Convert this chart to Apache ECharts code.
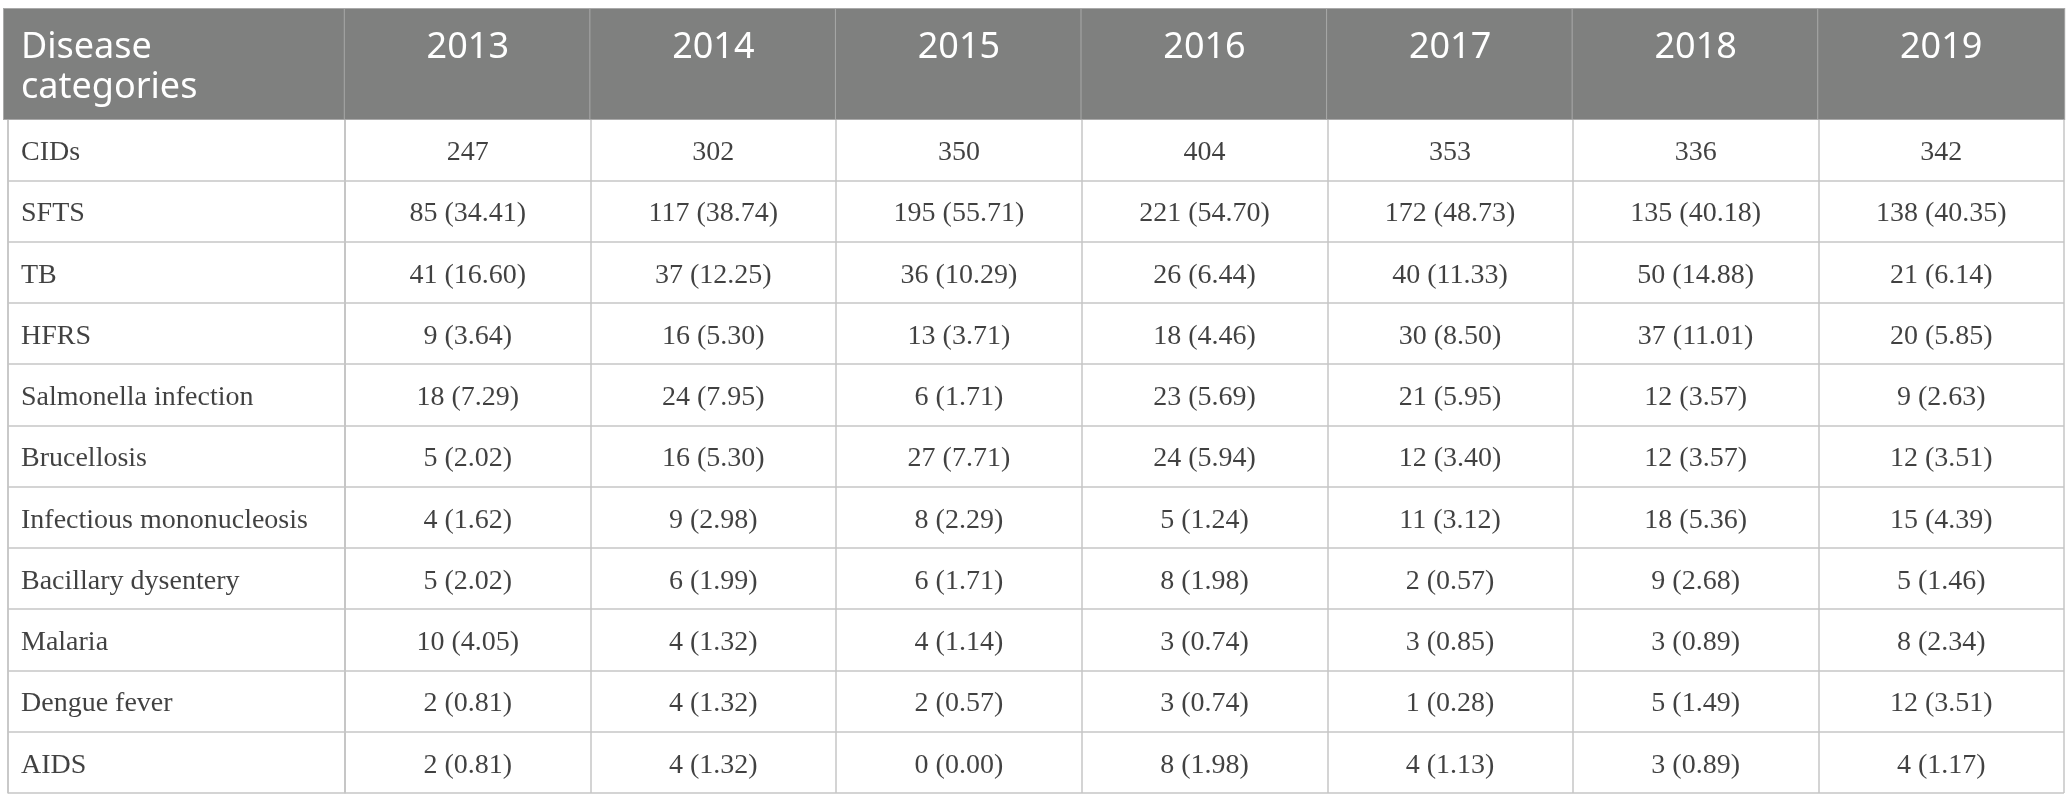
<!DOCTYPE html>
<html>
<head>
    <meta charset="utf-8">
    <script src="https://cdn.jsdelivr.net/npm/echarts@6/dist/echarts.min.js"></script>
    <style>
        body { margin: 0; background: #fff; }
    </style>
</head>
<body>
    <div id="main" style="width: 2068px;height:812px;"></div>
    <script type="text/javascript">
        // table data
        var categories = ['CIDs', 'SFTS', 'TB', 'HFRS', 'Salmonella infection', 'Brucellosis',
            'Infectious mononucleosis', 'Bacillary dysentery', 'Malaria', 'Dengue fever', 'AIDS'];
        var years = ['2013', '2014', '2015', '2016', '2017', '2018', '2019'];

        var cases2013 = [247, 85, 41, 9, 18, 5, 4, 5, 10, 2, 2];
        var cases2014 = [302, 117, 37, 16, 24, 16, 9, 6, 4, 4, 4];
        var cases2015 = [350, 195, 36, 13, 6, 27, 8, 6, 4, 2, 0];
        var cases2016 = [404, 221, 26, 18, 23, 24, 5, 8, 3, 3, 8];
        var cases2017 = [353, 172, 40, 30, 21, 12, 11, 2, 3, 1, 4];
        var cases2018 = [336, 135, 50, 37, 12, 12, 18, 9, 3, 5, 3];
        var cases2019 = [342, 138, 21, 20, 9, 12, 15, 5, 8, 12, 4];

        var pct2013 = [null, 34.41, 16.60, 3.64, 7.29, 2.02, 1.62, 2.02, 4.05, 0.81, 0.81];
        var pct2014 = [null, 38.74, 12.25, 5.30, 7.95, 5.30, 2.98, 1.99, 1.32, 1.32, 1.32];
        var pct2015 = [null, 55.71, 10.29, 3.71, 1.71, 7.71, 2.29, 1.71, 1.14, 0.57, 0.00];
        var pct2016 = [null, 54.70, 6.44, 4.46, 5.69, 5.94, 1.24, 1.98, 0.74, 0.74, 1.98];
        var pct2017 = [null, 48.73, 11.33, 8.50, 5.95, 3.40, 3.12, 0.57, 0.85, 0.28, 1.13];
        var pct2018 = [null, 40.18, 14.88, 11.01, 3.57, 3.57, 5.36, 2.68, 0.89, 1.49, 0.89];
        var pct2019 = [null, 40.35, 6.14, 5.85, 2.63, 3.51, 4.39, 1.46, 2.34, 3.51, 1.17];

        var casesByYear = [cases2013, cases2014, cases2015, cases2016, cases2017, cases2018, cases2019];
        var pctByYear = [pct2013, pct2014, pct2015, pct2016, pct2017, pct2018, pct2019];

        var lineColor = '#c6c6c6';
        var headBg = '#7f807f';
        var textColor = '#111';
        var serif = 'Liberation Serif';
        var sans = 'Noto Sans';
        var firstW = 345;
        var cellW = (2068 - 1 - firstW) / years.length;
        var firstHead = 'Disease categories';

        var cells = [];
        years.forEach(function (y, i) {
            categories.forEach(function (c, j) {
                var p = pctByYear[i][j];
                var txt = p === null ? String(casesByYear[i][j]) : casesByYear[i][j] + ' (' + p.toFixed(2) + ')';
                cells.push([y, c, txt]);
            });
        });
        var names = categories.map(function (c) { return [firstHead, c, c]; });

        var myChart = echarts.init(document.getElementById('main'));
        var option = {
            animation: false,
            grid: [
                { left: 0, width: firstW, top: 119, bottom: 19 },
                { left: firstW, right: 1, top: 119, bottom: 19 }
            ],
            xAxis: [{
                gridIndex: 0,
                type: 'category',
                position: 'top',
                data: [firstHead],
                axisLine: { show: true, lineStyle: { color: lineColor, width: 1.5 } },
                axisTick: { show: false },
                splitLine: { show: true, lineStyle: { color: lineColor, width: 1.5 } },
                axisLabel: {
                    margin: 0,
                    width: firstW - 17,
                    padding: [19, 0, 11, 17],
                    backgroundColor: headBg,
                    borderColor: '#a9a9a9',
                    borderWidth: 1,
                    formatter: function () { return '{h|Disease}\n{h|categories}'; },
                    rich: {
                        h: { align: 'left', color: '#fff', fontFamily: sans, fontSize: 36, lineHeight: 40 }
                    }
                }
            }, {
                gridIndex: 1,
                type: 'category',
                position: 'top',
                data: years,
                axisLine: { show: true, lineStyle: { color: lineColor, width: 1.5 } },
                axisTick: { show: false },
                splitLine: { show: true, lineStyle: { color: lineColor, width: 1.5 } },
                axisLabel: {
                    margin: 0,
                    interval: 0,
                    width: cellW,
                    align: 'center',
                    padding: [19, 0, 51, 0],
                    backgroundColor: headBg,
                    borderColor: '#a9a9a9',
                    borderWidth: 1,
                    color: '#fff',
                    fontFamily: sans,
                    fontSize: 36,
                    lineHeight: 40
                }
            }],
            yAxis: [{
                gridIndex: 0,
                type: 'category',
                inverse: true,
                data: categories,
                axisLine: { show: true, lineStyle: { color: lineColor, width: 1.5 } },
                axisTick: { show: false },
                splitLine: { show: true, lineStyle: { color: lineColor, width: 1.5 } },
                axisLabel: { show: false }
            }, {
                gridIndex: 1,
                type: 'category',
                inverse: true,
                data: categories,
                axisLine: { show: true, lineStyle: { color: lineColor, width: 1.5 } },
                axisTick: { show: false },
                splitLine: { show: true, lineStyle: { color: lineColor, width: 1.5 } },
                axisLabel: { show: false }
            }],
            series: [{
                // disease names, left aligned in the first column
                type: 'scatter',
                xAxisIndex: 0,
                yAxisIndex: 0,
                silent: true,
                symbolSize: 1,
                itemStyle: { color: 'rgba(0,0,0,0)' },
                data: names,
                label: {
                    show: true,
                    position: 'inside',
                    align: 'left',
                    offset: [17 - firstW / 2, 3],
                    color: textColor,
                    fontFamily: serif,
                    fontSize: 28,
                    formatter: function (p) { return p.value[2]; }
                }
            }, {
                type: 'scatter',
                xAxisIndex: 1,
                yAxisIndex: 1,
                silent: true,
                symbolSize: 1,
                itemStyle: { color: 'rgba(0,0,0,0)' },
                data: cells,
                label: {
                    show: true,
                    position: 'inside',
                    offset: [0, 3],
                    color: textColor,
                    fontFamily: serif,
                    fontSize: 28,
                    formatter: function (p) { return p.value[2]; }
                }
            }]
        };
        myChart.setOption(option);
    </script>
</body>
</html>
